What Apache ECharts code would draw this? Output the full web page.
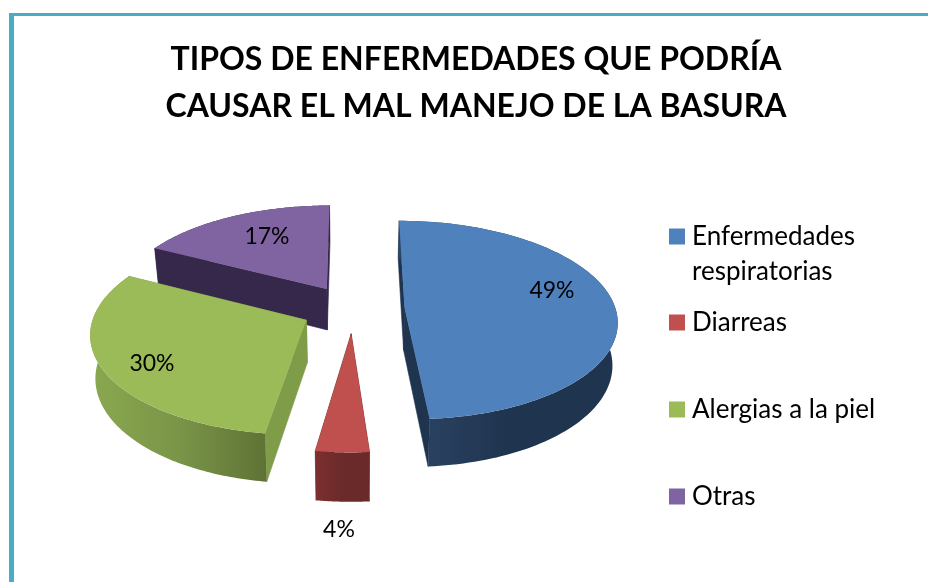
<!DOCTYPE html>
<html>
<head>
<meta charset="utf-8">
<style>
html, body { margin: 0; padding: 0; background: #fff; }
#chart { width: 928px; height: 582px; }
</style>
<script src="https://cdn.jsdelivr.net/npm/echarts@6/dist/echarts.min.js"></script>
</head>
<body>
<div id="chart"></div>
<script>
// datos (estimados por el angulo de cada porcion, la etiqueta los redondea)
var categories = ["Enfermedades respiratorias", "Diarreas", "Alergias a la piel", "Otras"];
var values = [48.8, 3.5, 30.3, 17.4];

var titleText = "TIPOS DE ENFERMEDADES QUE PODRÍA\nCAUSAR EL MAL MANEJO DE LA BASURA";
var fontName = "Lato";

// colores por categoria
var topColors = ["#4f81bd", "#c0504d", "#9bbb59", "#8064a2"];
var faceColors = ["#1f344e", "#6b2a2a", "#7f9c48", "#36284a"];
var wallColors = [
    ["#2d4668", "#1f344e", "#1f344e"],
    ["#7c302f", "#6b2a2a", "#6b2a2a"],
    ["#8aa84f", "#7a9548", "#5f7235"],
    ["#36284a", "#36284a", "#36284a"]
];

// geometria del pie con perspectiva
var cx = 353, cy = 309, rx = 211, ry = 98, persp = 0.12, depth = 42, explode = 0.245;
var startDeg = 0;
var labelAt = [[552, 291], [339, 530], [152, 364], [267, 237]];
var legendTop = [184, 305, 392, 479];
// orden de pintado: de atras hacia adelante
var drawOrder = [3, 2, 0, 1];

var total = values.reduce(function (a, b) { return a + b; }, 0);

function project(X, Y, down) {
    var s = 1 / (1 - persp * Y);
    var x = cx + X * rx * s;
    var y = cy + Y * ry * s;
    if (down) {
        x = cx + (x - cx) * 0.98;
        y += depth * s;
    }
    return [x, y];
}

function renderSlice(idx) {
    return function (params, api) {
        var before = 0;
        for (var i = 0; i < idx; i++) before += values[i];
        var a0 = startDeg + before / total * 360;
        var a1 = a0 + api.value(0) / total * 360;
        var mid = (a0 + a1) / 2 * Math.PI / 180;
        var ox = Math.sin(mid) * explode;
        var oy = -Math.cos(mid) * explode;

        function pt(deg, down) {
            var r = deg * Math.PI / 180;
            return project(ox + Math.sin(r), oy - Math.cos(r), down);
        }
        var apex = project(ox, oy, false);
        var apexDown = project(ox, oy, true);

        var arcTop = [], arcDown = [];
        for (var d = 0; d <= 120; d++) {
            var deg = a0 + (a1 - a0) * d / 120;
            arcTop.push(pt(deg, false));
            arcDown.push(pt(deg, true));
        }
        var first = arcTop[0], last = arcTop[120];
        var firstDown = arcDown[0], lastDown = arcDown[120];

        var wall = wallColors[idx];
        var faceStyle = { fill: faceColors[idx], stroke: faceColors[idx], lineWidth: 0.6 };
        return {
            type: "group",
            children: [
                { type: "polygon", shape: { points: [apex, first, firstDown, apexDown] }, style: faceStyle },
                { type: "polygon", shape: { points: [apex, last, lastDown, apexDown] }, style: faceStyle },
                {
                    type: "polygon",
                    shape: { points: arcTop.concat(arcDown.slice().reverse()) },
                    style: {
                        fill: new echarts.graphic.LinearGradient(0, 0, 1, 0, [
                            { offset: 0, color: wall[0] },
                            { offset: 0.5, color: wall[1] },
                            { offset: 1, color: wall[2] }
                        ])
                    }
                },
                { type: "polygon", shape: { points: [apex].concat(arcTop) }, style: { fill: topColors[idx] } },
                {
                    type: "text",
                    style: {
                        text: Math.round(api.value(0)) + "%",
                        x: labelAt[idx][0],
                        y: labelAt[idx][1],
                        align: "center",
                        verticalAlign: "middle",
                        fill: "#000",
                        font: "23px " + fontName
                    }
                }
            ]
        };
    };
}

var seriesList = drawOrder.map(function (idx) {
    return {
        type: "custom",
        name: categories[idx],
        coordinateSystem: "none",
        itemStyle: { color: topColors[idx] },
        silent: true,
        renderItem: renderSlice(idx),
        data: [[values[idx]]]
    };
});

var legendList = categories.map(function (name, i) {
    return {
        left: 669,
        top: legendTop[i],
        padding: 0,
        icon: "rect",
        itemWidth: 16,
        itemHeight: 16,
        data: [name],
        selectedMode: false,
        // la primera lleva dos lineas: una vacia arriba deja el cuadro alineado con la primera
        formatter: function (n) {
            if (i !== 0) return "{a|" + n + "}";
            return "\n{a|Enfermedades}\n{a|respiratorias}";
        },
        textStyle: {
            fontFamily: fontName,
            fontSize: 26,
            lineHeight: 35,
            color: "#000",
            rich: {
                a: { fontFamily: fontName, fontSize: 26, lineHeight: 35, color: "#000", padding: [0, 0, 0, 2] }
            }
        }
    };
});

var myChart = echarts.init(document.getElementById("chart"));
myChart.setOption({
    animation: false,
    title: {
        text: titleText,
        left: 471,
        top: 31,
        textAlign: "center",
        textStyle: {
            fontFamily: fontName,
            fontWeight: "bold",
            fontSize: 32,
            lineHeight: 47,
            color: "#000"
        }
    },
    graphic: [
        { type: "rect", shape: { x: 9, y: 13, width: 919, height: 3 }, style: { fill: "#4bacc6" } },
        { type: "rect", shape: { x: 9, y: 13, width: 5, height: 569 }, style: { fill: "#4bacc6" } }
    ],
    legend: legendList,
    series: seriesList
});
</script>
</body>
</html>
